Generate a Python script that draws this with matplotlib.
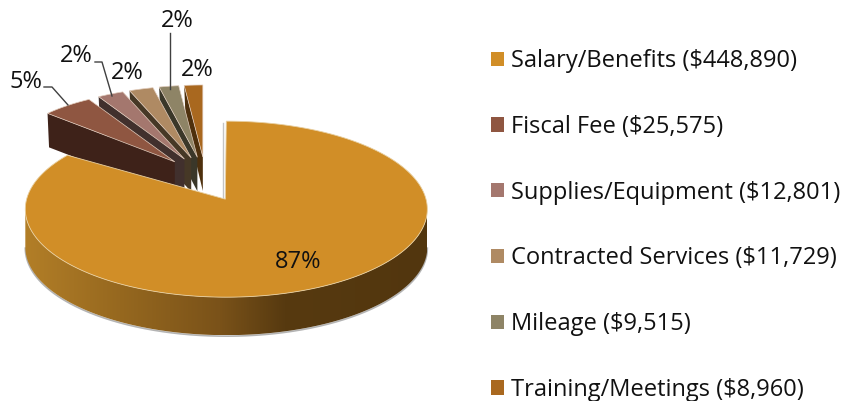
import numpy as np
import matplotlib
matplotlib.use("Agg")
import matplotlib.pyplot as plt
from matplotlib.patches import Patch, Polygon
from matplotlib.colors import to_rgb

categories = ["Salary/Benefits", "Fiscal Fee", "Supplies/Equipment",
              "Contracted Services", "Mileage", "Training/Meetings"]
amounts = [448890, 25575, 12801, 11729, 9515, 8960]
pct_labels = ["87%", "5%", "2%", "2%", "2%", "2%"]

top_colors = ["#D18E27", "#8F5641", "#A4776E", "#AF8A63", "#8E8466", "#A9681F"]
side_colors = ["#7A5219", "#3E2219", "#41302D", "#463826", "#3A3729", "#4E300D"]
grad_x = [27, 120, 220, 285, 427]
grad_col = ["#B27E27", "#96681F", "#7A5219", "#573A10", "#52360E"]

plt.rcParams["font.family"] = "Open Sans"
fig = plt.figure(figsize=(8.51, 4.01), dpi=100)
ax = fig.add_axes([0, 0, 1, 1])
ax.axis("off")

# pie geometry (pixel space of the axes)
AX0, AY0, EXPLODE, TILT = 205.5, 179.0, 49.0, 0.45
DEPTH = 38
MAIN_R = (201, 88)
MAIN_DY = 10
MAIN_END_TRIM = 4.5   # perspective: the far rim of the big slice reads narrower
SMALL_R = (172, 72)

total = sum(amounts)
sweeps = [a / total * 360 for a in amounts]
starts = np.concatenate([[0], np.cumsum(sweeps)[:-1]])


def tip(mid):
    t = np.radians(mid)
    return AX0 + EXPLODE * np.sin(t), AY0 - EXPLODE * TILT * np.cos(t)


def arc(cx, cy, r, a, b, n=80):
    t = np.radians(np.linspace(a, b, n))
    return cx + r[0] * np.sin(t), cy - r[1] * np.cos(t)


# exploded small slices, back to front
for i in range(5, 0, -1):
    a, b = starts[i], starts[i] + sweeps[i]
    tx, ty = tip((a + b) / 2)
    ax_, ay_ = arc(tx, ty, SMALL_R, a, b, 30)
    sx = [tx, ax_[0], ax_[0] + 1.5, tx]
    sy = [ty, ay_[0], ay_[0] + DEPTH - 4, ty + DEPTH - 4]
    ax.fill(sx, sy, color=side_colors[i], lw=0, zorder=2 + (6 - i))
    ax.fill(np.r_[tx, ax_], np.r_[ty, ay_], facecolor=top_colors[i],
            edgecolor="#E2CDBE", lw=0.5, zorder=2 + (6 - i))

# main slice
a, b = starts[0], starts[0] + sweeps[0]
tx, ty = tip((a + b) / 2)
cx, cy = tx + 1, ty + MAIN_DY
fx, fy = arc(cx, cy, MAIN_R, 90, 270, 200)
ax.plot(fx, fy + DEPTH + 1, color="#B4B4B4", lw=1.2, zorder=9)
ax.plot([tx - 2, tx - 2], [ty - 76, ty], color="#C4C4C4", lw=1.0, zorder=9)

# rim with a horizontal gradient, clipped to the rim outline
xs = np.linspace(cx - MAIN_R[0], cx + MAIN_R[0], 400)
gr = np.array([to_rgb(c) for c in grad_col])
grad = np.stack([np.interp(xs, grad_x, gr[:, k]) for k in range(3)], axis=-1)[None, :, :]
im = ax.imshow(grad, extent=(xs[0], xs[-1], cy + MAIN_R[1] + DEPTH, cy), aspect="auto",
               interpolation="bilinear", zorder=10)
rim = Polygon(np.c_[np.r_[fx, fx[::-1]], np.r_[fy, fy[::-1] + DEPTH]],
              closed=True, transform=ax.transData, facecolor="none", edgecolor="none")
ax.add_patch(rim)
im.set_clip_path(rim)

mx, my = arc(cx, cy, MAIN_R, a, b - MAIN_END_TRIM, 300)
ax.fill(np.r_[tx, mx], np.r_[ty, my], facecolor=top_colors[0],
        edgecolor="#E8CFA0", lw=0.6, zorder=11)

# data labels
label_pos = [(298, 262), (26, 82), (76, 56), (127, 73), (177, 21), (197, 70)]
for s, (x, y) in zip(pct_labels, label_pos):
    ax.text(x, y, s, ha="center", va="center", fontsize=17, color="#111111", zorder=20)
for lx, ly in [([44, 52, 68], [87, 87, 105]),
               ([95, 102, 112], [62, 62, 96]),
               ([170, 170], [33, 89])]:
    ax.plot(lx, ly, color="#404040", lw=1.0, zorder=20)

ax.set_xlim(0, 851)
ax.set_ylim(401, 0)

# legend
handles = [Patch(facecolor=c, edgecolor="none") for c in top_colors]
labels = [f"{c} (${a:,})" for c, a in zip(categories, amounts)]
ax.legend(handles, labels, loc="upper left", bbox_to_anchor=(491 / 851, 1 - 49 / 401),
          bbox_transform=ax.transAxes, frameon=False, fontsize=17,
          handlelength=0.55, handleheight=0.55, handletextpad=0.28,
          labelspacing=1.77, borderpad=0, borderaxespad=0, labelcolor="#111111")

fig.savefig("out.png", dpi=100)
